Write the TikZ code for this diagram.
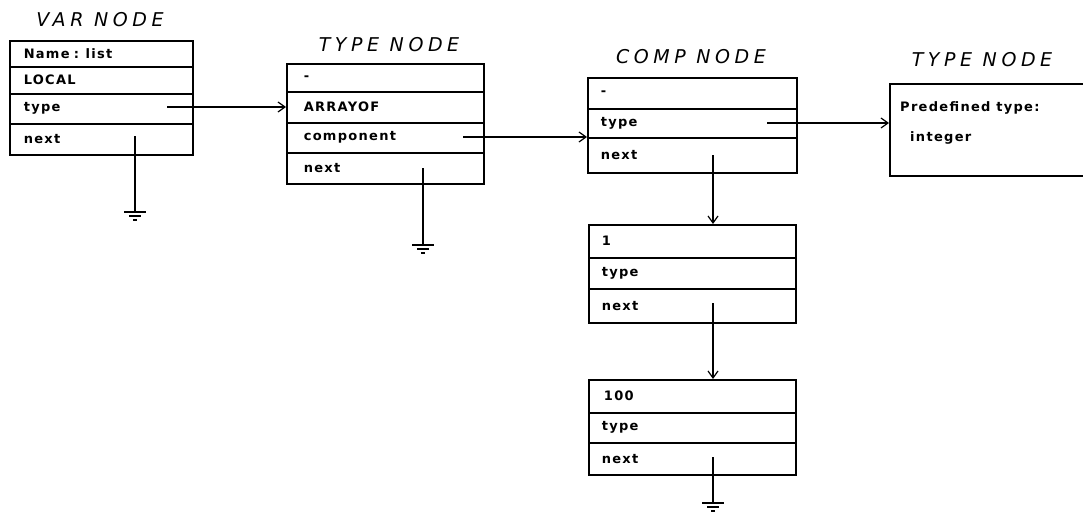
\documentclass[tikz,border=0pt]{standalone}
\usepackage{fontspec}
\usetikzlibrary{arrows.meta}
\newfontfamily\rowfont[LetterSpace=10]{DejaVu Sans}
\newfontfamily\ttlfont[LetterSpace=24]{DejaVu Sans}
\tikzset{
  row/.style={draw, line width=1.5pt, anchor=north west, inner xsep=14pt, inner ysep=0pt,
    align=left, font=\rowfont\bfseries\fontsize{13}{15}\selectfont},
  ttl/.style={font=\ttlfont\itshape\fontsize{19}{21}\selectfont, inner sep=0pt},
  lbl/.style={anchor=west, inner sep=0pt, font=\rowfont\bfseries\fontsize{13}{15}\selectfont},
  conn/.style={line width=1.2pt},
  arr/.style={line width=1.2pt, -{Straight Barb[length=7pt,width=10pt,line width=1.2pt]}},
  gnd/.style={line width=1.3pt}
}
\newcommand{\grnd}[1]{%
  \draw[gnd] ([xshift=-11pt]#1) -- ([xshift=11pt]#1);
  \draw[gnd] ([xshift=-6pt,yshift=-4pt]#1) -- ([xshift=6pt,yshift=-4pt]#1);
  \draw[gnd] ([xshift=-2pt,yshift=-8pt]#1) -- ([xshift=2pt,yshift=-8pt]#1);}
\begin{document}
\begin{tikzpicture}[x=1pt,y=-1pt]
\useasboundingbox (0,0) rectangle (1083,514);
% titles
\node[ttl] (tvar) at (100,20) {VAR NODE};
\node[ttl] (ttype) at (389,45) {TYPE NODE};
\node[ttl] (tcomp) at (691,57) {COMP NODE};
\node[ttl] (ttype2) at (982,60) {TYPE NODE};
% VAR NODE
\node[row, text width=155pt, minimum height=26pt] (v1) at (9,40) {Name : list};
\node[row, text width=155pt, minimum height=27pt] (v2) at (9,66) {LOCAL};
\node[row, text width=155pt, minimum height=30pt] (v3) at (9,93) {type};
\node[row, text width=155pt, minimum height=31pt] (v4) at (9,123) {next};
% TYPE NODE
\node[row, text width=163pt, inner xsep=17pt, minimum height=28pt] (t1) at (286,63) {-};
\node[row, text width=163pt, inner xsep=17pt, minimum height=31pt] (t2) at (286,91) {ARRAYOF};
\node[row, text width=163pt, inner xsep=17pt, minimum height=30pt] (t3) at (286,122) {component};
\node[row, text width=163pt, inner xsep=17pt, minimum height=31pt] (t4) at (286,152) {next};
% COMP NODE
\node[row, text width=183pt, inner xsep=13pt, minimum height=31pt] (c1) at (587,77) {-};
\node[row, text width=183pt, inner xsep=13pt, minimum height=29pt] (c2) at (587,108) {type};
\node[row, text width=183pt, inner xsep=13pt, minimum height=35pt] (c3) at (587,137) {next};
% node 1
\node[row, text width=181pt, inner xsep=13pt, minimum height=33pt] (n1) at (588,224) {1};
\node[row, text width=181pt, inner xsep=13pt, minimum height=31pt] (n2) at (588,257) {type};
\node[row, text width=181pt, inner xsep=13pt, minimum height=34pt] (n3) at (588,288) {next};
% node 100
\node[row, text width=181pt, inner xsep=13pt, minimum height=33pt] (m1) at (588,379) {\,100};
\node[row, text width=181pt, inner xsep=13pt, minimum height=30pt] (m2) at (588,412) {type};
\node[row, text width=181pt, inner xsep=13pt, minimum height=32pt] (m3) at (588,442) {next};
% right TYPE NODE (cut by the page edge)
\node[draw, line width=1.5pt, anchor=north west, minimum width=210pt, minimum height=92pt, inner sep=0pt] (r) at (889,83) {};
\node[lbl] (r1) at (900,108) {Predefined type:};
\node[lbl] (r2) at (910,138) {integer};
% connectors
\coordinate (vt) at (167,107);
\draw[arr] (vt) -- (vt -| t2.west);
\coordinate (tc) at (463,137);
\draw[arr] (tc) -- (tc -| c2.west);
\coordinate (ct) at (767,123);
\draw[arr] (ct) -- (ct -| r.west);
\coordinate (cn) at (713,155);
\draw[arr] (cn) -- (cn |- n1.north);
\coordinate (nn) at (713,303);
\draw[arr] (nn) -- (nn |- m1.north);
% grounded next pointers
\coordinate (vn) at (135,136);
\coordinate (vg) at (135,212);
\draw[conn] (vn) -- (vg);
\grnd{vg}
\coordinate (tn) at (423,168);
\coordinate (tg) at (423,245);
\draw[conn] (tn) -- (tg);
\grnd{tg}
\coordinate (mn) at (713,457);
\coordinate (mg) at (713,503);
\draw[conn] (mn) -- (mg);
\grnd{mg}
\end{tikzpicture}
\end{document}
